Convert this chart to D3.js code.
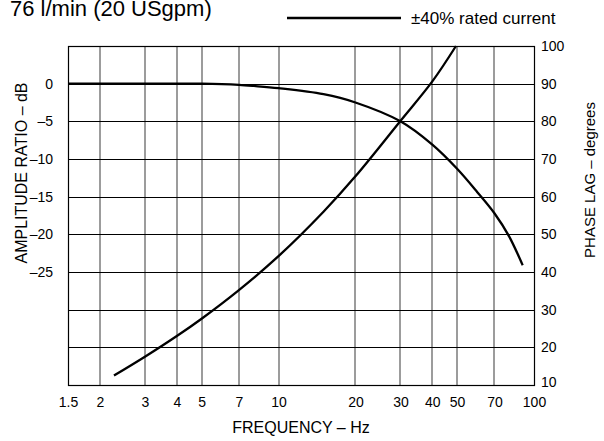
<!DOCTYPE html>
<html><head><meta charset="utf-8">
<script src="https://cdn.jsdelivr.net/npm/d3@7"></script>
<style>
html,body{margin:0;padding:0;background:#fff;}
text{font-family:"Liberation Sans",Arial,sans-serif;fill:#000;}
</style></head>
<body><svg id="c" width="604" height="441"></svg>
<script>
// ---- data ----
const titleText = "76 l/min (20 USgpm)";
const legendLabel = "±40% rated current";
const xTicks = [1.5, 2, 3, 4, 5, 7, 10, 20, 30, 40, 50, 70, 100];
const leftLabels = [0, -5, -10, -15, -20, -25];
const rightTicks = [100, 90, 80, 70, 60, 50, 40, 30, 20, 10];
const ampFreq = [1.5, 3, 5, 6, 7, 8, 10, 15, 20, 30, 40, 50, 60, 70, 80, 90.3];
const ampDb   = [0, 0, 0, -0.05, -0.15, -0.3, -0.6, -1.4, -2.5, -5.0, -8.1, -11.3, -14.4, -17.2, -20.3, -24.1];
const phaseFreq = [2.27, 3, 4, 5, 7, 10, 15, 20, 30, 40, 49.5];
const phaseDeg  = [12.5, 17.5, 23.0, 27.6, 35.2, 44.2, 56.0, 65.4, 80.1, 90.6, 100];

// ---- layout ----
const L = 68, R = 534, T = 46, B = 385;
const svg = d3.select("#c");
const x = d3.scaleLog().domain([1.5, 100]).range([L, R]);
const yL = d3.scaleLinear().domain([-40, 5]).range([B, T]);
const yR = d3.scaleLinear().domain([10, 100]).range([B, T]);
const FONT = '"Liberation Sans",Arial,sans-serif';

// vertical grid lines (gray)
svg.append("g").selectAll("line").data(xTicks.slice(1, -1)).join("line")
  .attr("x1", d => Math.round(x(d))).attr("x2", d => Math.round(x(d)))
  .attr("y1", T).attr("y2", B)
  .attr("stroke", "#000").attr("stroke-width", 1.2).attr("stroke-opacity", 0.65);

// horizontal grid lines (black)
svg.append("g").selectAll("line").data(rightTicks.slice(1, -1)).join("line")
  .attr("x1", L).attr("x2", R)
  .attr("y1", d => Math.round(yR(d)) + 0.5).attr("y2", d => Math.round(yR(d)) + 0.5)
  .attr("stroke", "#000").attr("stroke-width", 1);

// frame
svg.append("rect").attr("x", L + 0.5).attr("y", T + 0.5)
  .attr("width", R - L).attr("height", B - T)
  .attr("fill", "none").attr("stroke", "#000").attr("stroke-width", 1.2);

// axes labels
const xAxis = d3.axisBottom(x).tickValues(xTicks).tickSize(0).tickPadding(12)
  .tickFormat(d => String(d));
const gx = svg.append("g").attr("transform", `translate(0,${B})`).call(xAxis);
gx.select(".domain").remove();
gx.selectAll("text").style("font-size", "14px").style("font-family", FONT).attr("fill", "#000");

const lAxis = d3.axisLeft(yL).tickValues(leftLabels).tickSize(0).tickPadding(15)
  .tickFormat(d => d === 0 ? "0" : "–" + Math.abs(d));
const gl = svg.append("g").attr("transform", `translate(${L},0)`).call(lAxis);
gl.select(".domain").remove();
gl.selectAll("text").style("font-size", "14px").style("font-family", FONT).attr("fill", "#000");

const rAxis = d3.axisRight(yR).tickValues(rightTicks).tickSize(0).tickPadding(7)
  .tickFormat(d => String(d));
const gr = svg.append("g").attr("transform", `translate(${R},0)`).call(rAxis);
gr.select(".domain").remove();
gr.selectAll("text").style("font-size", "14px").style("font-family", FONT).attr("fill", "#000");
gr.selectAll(".tick").filter(d => d === 10).select("text").attr("dy", "0.1em");

// curves
const line = d3.line().curve(d3.curveCatmullRom.alpha(0.5));
const ampPts = ampFreq.map((f, i) => [x(f), yL(ampDb[i])]);
const phPts = phaseFreq.map((f, i) => [x(f), yR(phaseDeg[i])]);
svg.append("path").attr("d", line(ampPts)).attr("fill", "none").attr("stroke", "#000").attr("stroke-width", 2.3);
svg.append("path").attr("d", line(phPts)).attr("fill", "none").attr("stroke", "#000").attr("stroke-width", 2.3);

// axis titles
svg.append("text").attr("x", (L + R) / 2).attr("y", 433).attr("text-anchor", "middle")
  .style("font-size", "16px").text("FREQUENCY – Hz");
svg.append("text").attr("transform", `translate(27,173) rotate(-90)`).attr("text-anchor", "middle")
  .style("font-size", "16px").text("AMPLITUDE RATIO – dB");
svg.append("text").attr("transform", `translate(595,180) rotate(-90)`).attr("text-anchor", "middle")
  .style("font-size", "15px").text("PHASE LAG – degrees");

// title & legend
svg.append("text").attr("x", 10).attr("y", 16).style("font-size", "22px").text(titleText);
svg.append("line").attr("x1", 287).attr("x2", 401).attr("y1", 18).attr("y2", 18)
  .attr("stroke", "#000").attr("stroke-width", 2.3);
svg.append("text").attr("x", 411).attr("y", 24).style("font-size", "17px").text(legendLabel);
</script></body></html>
